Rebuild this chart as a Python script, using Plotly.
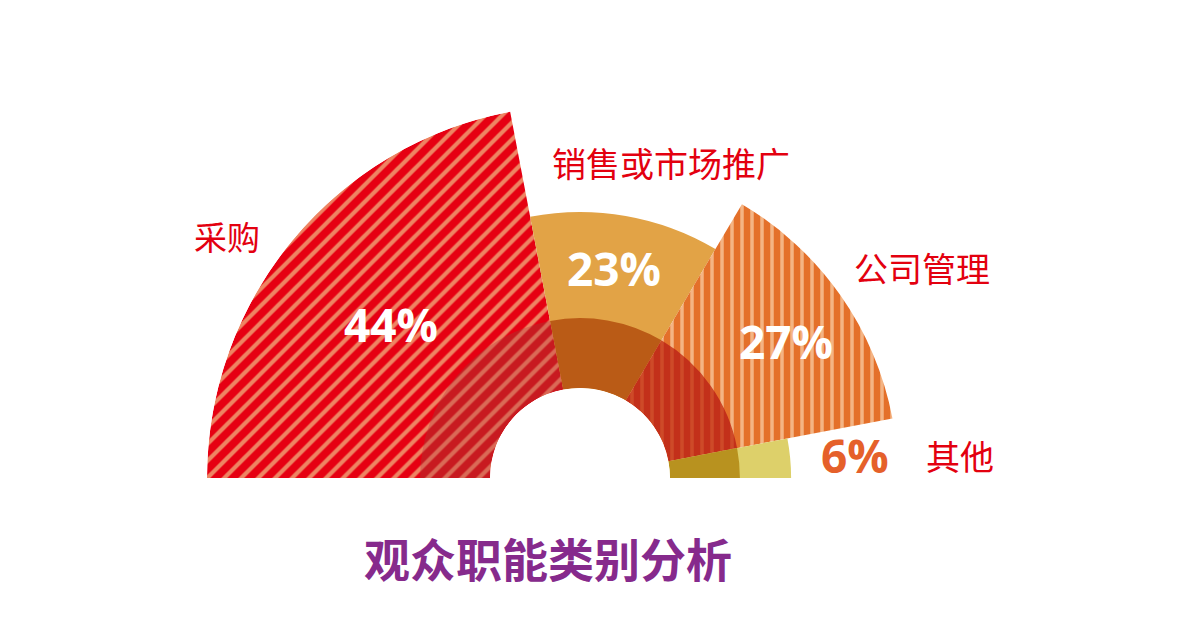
import plotly.graph_objects as go
import numpy as np

# ---- data ----
categories = ["采购", "销售或市场推广", "公司管理", "其他"]
percentages = [44, 23, 27, 6]
outer_radius = [100, 62.2, 80.6, 42.8]      # rose-chart radius (rank based)
inner_radius = [24.7, 24.7, 24.7, 24.7]     # darker inner ring
pct_labels = ["44%", "23%", "27%", "6%"]
title_text = "观众职能类别分析"

# ---- styles ----
outer_colors = ["#E60012", "#E2A346", "#E4702A", "#DDD06A"]
patterns = ["/", "", "|", ""]
outer_fg = ["#EE8462", None, "#F4B484", None]
pattern_sizes = [12, 10, 10, 10]
inner_colors = ["#C81A20", "#BA5B16", "#C3301A", "#B8921F"]
inner_fg = ["#DA6A56", None, "#CE4A28", None]

# angular geometry from the percentages (half circle = 100%)
p = np.array(percentages, dtype=float)
widths = p * 1.8
starts = 180 - np.concatenate([[0], np.cumsum(widths)[:-1]])
centers = starts - widths / 2

fig = go.Figure()

def add_ring(radii, colors, fgs):
    for i in range(len(categories)):
        marker = dict(color=colors[i], line=dict(width=0))
        if patterns[i]:
            marker["pattern"] = dict(shape=patterns[i], fillmode="replace",
                                     bgcolor=colors[i], fgcolor=fgs[i], fgopacity=1,
                                     size=pattern_sizes[i], solidity=0.35)
        fig.add_trace(go.Barpolar(
            r=[radii[i]], theta=[centers[i]], width=[widths[i]],
            marker=marker, hoverinfo="skip", name=categories[i],
        ))

add_ring(outer_radius, outer_colors, outer_fg)
add_ring(inner_radius, inner_colors, inner_fg)

# page has an 8px body margin -> figure coords = page coords - 8
OFF = 8
W, H = 1196 - 2 * OFF, 644 - 2 * OFF
def px(x, y):
    return (x - OFF) / W, 1 - (y - OFF) / H

annotations = []
cat_pos = [(227, 236), (671, 162), (922, 267), (960, 455)]
cat_sizes = [33, 34, 34, 34]
for txt, (x, y), s in zip(categories, cat_pos, cat_sizes):
    ax, ay = px(x, y)
    annotations.append(dict(x=ax, y=ay, xref="paper", yref="paper", text=txt,
                            showarrow=False, xanchor="center", yanchor="middle",
                            font=dict(family="Noto Sans CJK SC", size=s, color="#E3000F")))
pct_pos = [(391, 324), (614, 268), (786, 341), (855, 455)]
pct_colors = ["white", "white", "white", "#E5602A"]
for txt, (x, y), c in zip(pct_labels, pct_pos, pct_colors):
    ax, ay = px(x, y)
    annotations.append(dict(x=ax, y=ay, xref="paper", yref="paper", text="<b>%s</b>" % txt,
                            showarrow=False, xanchor="center", yanchor="middle",
                            font=dict(family="Open Sans", size=46, color=c)))
tx, ty = px(548, 557)
annotations.append(dict(x=tx, y=ty, xref="paper", yref="paper", text="<b>%s</b>" % title_text,
                        showarrow=False, xanchor="center", yanchor="middle",
                        font=dict(family="Noto Sans CJK SC", size=46, color="#862A8C")))

cx, cy, R = 580 - OFF, 478 - OFF, 373
fig.update_layout(
    width=W, height=H,
    margin=dict(l=0, r=0, t=0, b=0),
    paper_bgcolor="white",
    showlegend=False,
    annotations=annotations,
    polar=dict(
        domain=dict(x=[(cx - R) / W, (cx + R) / W], y=[1 - cy / H, 1 - (cy - R) / H]),
        sector=[0, 180],
        hole=90 / 373,
        bgcolor="white",
        barmode="overlay",
        radialaxis=dict(visible=False, range=[0, 100]),
        angularaxis=dict(visible=False, direction="counterclockwise", rotation=0),
    ),
)

fig.write_html("out.html")
